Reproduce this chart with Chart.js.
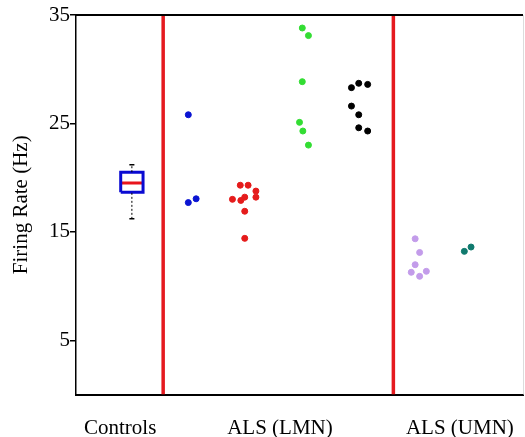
<!DOCTYPE html>
<html>
<head>
<meta charset="utf-8">
<script src="https://cdn.jsdelivr.net/npm/chart.js@4/dist/chart.umd.min.js"></script>
<style>
  html, body { margin: 0; padding: 0; background: #fff; }
  canvas { display: block; }
</style>
</head>
<body>
<canvas id="chartCanvas" width="525" height="437"></canvas>
<script>
// Grupos en el eje x
const categories = ['Controls', 'ALS (LMN)', 'ALS (UMN)'];
const categoryTickPos = [0.79, 3.65, 6.87];
const dividerPos = [1.56, 5.68];
const yTicks = [5, 15, 25, 35];

// Controles: min, q1, mediana, q3, max
const controlsBox = [16.2, 18.65, 19.5, 20.5, 21.2];
const controlsPos = 1;

// ALS (LMN)
const lmnBlueX = [2.01, 2.01, 2.15];
const lmnBlueY = [25.8, 17.7, 18.05];
const lmnRedX = [2.80, 2.95, 3.02, 3.02, 3.02, 2.94, 3.08, 3.22, 3.22];
const lmnRedY = [18.0, 17.9, 18.2, 16.9, 14.4, 19.3, 19.3, 18.76, 18.2];
const lmnGreenX = [4.05, 4.16, 4.05, 4.0, 4.06, 4.16];
const lmnGreenY = [33.8, 33.1, 28.85, 25.1, 24.3, 23.0];
const lmnBlackX = [4.93, 5.06, 5.22, 4.93, 5.06, 5.06, 5.22];
const lmnBlackY = [28.3, 28.7, 28.6, 26.6, 25.8, 24.6, 24.3];

// ALS (UMN)
const umnPurpleX = [6.07, 6.15, 6.07, 6.0, 6.15, 6.27];
const umnPurpleY = [14.36, 13.1, 11.97, 11.27, 10.9, 11.36];
const umnTealX = [6.95, 7.07];
const umnTealY = [13.2, 13.6];

const serif = 'Liberation Serif, "Times New Roman", serif';
const pts = (xs, ys) => xs.map((x, i) => ({ x: x, y: ys[i] }));

function dots(xs, ys, color) {
    return {
        data: pts(xs, ys),
        backgroundColor: color,
        borderColor: color,
        borderWidth: 1,
        pointRadius: 3,
        showLine: false,
        order: 0
    };
}

function segment(data, color, width, dash) {
    return {
        data: data,
        showLine: true,
        borderColor: color,
        borderWidth: width,
        borderDash: dash || [],
        pointRadius: 0,
        fill: false,
        order: 1
    };
}

// Caja de controles
const [bMin, bQ1, bMed, bQ3, bMax] = controlsBox;
const hw = 0.2, cw = 0.045;
const c = controlsPos;
const boxSets = [
    segment([{ x: c, y: bQ3 }, { x: c, y: bMax }], '#000', 1, [2, 2]),
    segment([{ x: c, y: bMin }, { x: c, y: bQ1 }], '#000', 1, [2, 2]),
    segment([{ x: c - cw, y: bMax }, { x: c + cw, y: bMax }], '#000', 1.5),
    segment([{ x: c - cw, y: bMin }, { x: c + cw, y: bMin }], '#000', 1.5),
    segment([
        { x: c - hw, y: bQ1 }, { x: c + hw, y: bQ1 }, { x: c + hw, y: bQ3 },
        { x: c - hw, y: bQ3 }, { x: c - hw, y: bQ1 }
    ], '#0a0ad2', 3),
    segment([{ x: c - hw, y: bMed }, { x: c + hw, y: bMed }], '#e8141c', 3)
];

const dividerSets = dividerPos.map(p =>
    segment([{ x: p, y: 0 }, { x: p, y: 35 }], '#e51a1f', 3.5));

// Marco superior y derecho
const framePlugin = {
    id: 'frame',
    afterDatasetsDraw(chart) {
        const { ctx, chartArea: a } = chart;
        ctx.save();
        ctx.strokeStyle = '#000';
        ctx.lineWidth = 2;
        ctx.beginPath();
        ctx.moveTo(a.left, a.top);
        ctx.lineTo(a.right, a.top);
        ctx.stroke();
        ctx.strokeStyle = '#dcdcdc';
        ctx.lineWidth = 1;
        ctx.beginPath();
        ctx.moveTo(a.right + 0.5, a.top);
        ctx.lineTo(a.right + 0.5, a.bottom);
        ctx.stroke();
        ctx.restore();
    }
};

const ctx = document.getElementById('chartCanvas').getContext('2d');
new Chart(ctx, {
    type: 'scatter',
    data: {
        datasets: [
            ...dividerSets,
            ...boxSets,
            dots(lmnBlueX, lmnBlueY, '#0a14d2'),
            dots(lmnRedX, lmnRedY, '#e51b1b'),
            dots(lmnGreenX, lmnGreenY, '#33dd33'),
            dots(lmnBlackX, lmnBlackY, '#000000'),
            dots(umnPurpleX, umnPurpleY, '#c39cea'),
            dots(umnTealX, umnTealY, '#107a6e')
        ]
    },
    options: {
        responsive: false,
        animation: false,
        layout: { autoPadding: false, padding: { top: 15, right: 2, left: 0, bottom: 0 } },
        plugins: {
            legend: { display: false },
            tooltip: { enabled: false }
        },
        scales: {
            x: {
                type: 'linear',
                min: 0,
                max: 8,
                afterBuildTicks: s => { s.ticks = categoryTickPos.map(v => ({ value: v })); },
                afterFit: s => {
                    s.height = 42.5;
                    s.paddingLeft = 0;
                    s.paddingRight = 0;
                },
                ticks: {
                    autoSkip: false,
                    maxRotation: 0,
                    padding: 21,
                    color: '#000',
                    font: { family: serif, size: 21 },
                    callback: (v, i) => categories[i]
                },
                grid: { drawOnChartArea: false, drawTicks: false },
                border: { color: '#000', width: 2 }
            },
            y: {
                min: 0,
                max: 35,
                afterBuildTicks: s => { s.ticks = yTicks.map(v => ({ value: v })); },
                afterFit: s => { s.width = 76; },
                ticks: {
                    padding: 0,
                    color: '#000',
                    font: { family: serif, size: 21 }
                },
                grid: { drawOnChartArea: false, drawTicks: true, tickLength: 6, color: '#000', lineWidth: 1.5 },
                border: { color: '#000', width: 1.5 },
                title: {
                    display: true,
                    text: 'Firing Rate (Hz)',
                    color: '#000',
                    padding: { top: 9, bottom: 0 },
                    font: { family: serif, size: 21 }
                }
            }
        }
    },
    plugins: [framePlugin]
});
</script>
</body>
</html>
